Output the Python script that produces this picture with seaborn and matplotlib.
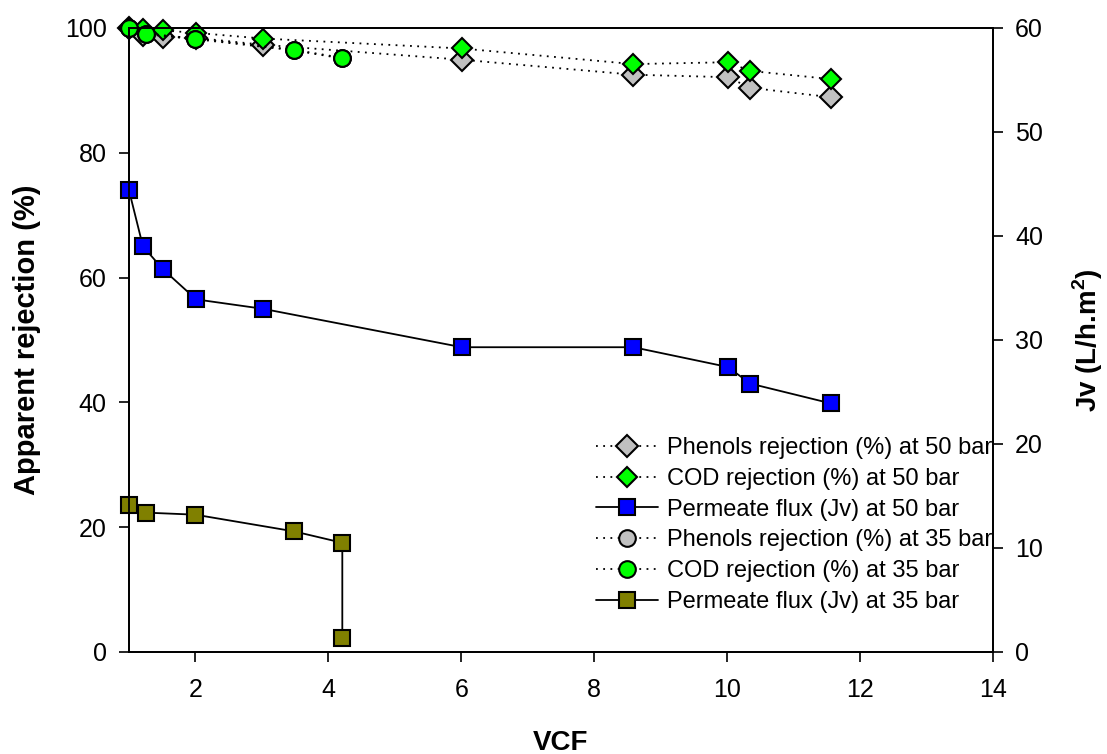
import matplotlib
matplotlib.use("Agg")
import matplotlib.pyplot as plt
import seaborn as sns

# ---- data ----
vcf50 = [1.0, 1.21, 1.51, 2.01, 3.01, 6.01, 8.59, 10.01, 10.35, 11.56]
phenols50 = [100.0, 98.9, 98.6, 98.4, 97.3, 94.9, 92.5, 92.1, 90.4, 88.9]
cod50 = [100.0, 99.8, 99.6, 99.2, 98.3, 96.7, 94.2, 94.5, 93.1, 91.8]
flux50 = [44.4, 39.0, 36.8, 33.9, 33.0, 29.3, 29.3, 27.4, 25.8, 23.9]

vcf35 = [1.0, 1.25, 2.0, 3.48, 4.21]
phenols35 = [100.0, 99.0, 98.2, 96.4, 95.1]
cod35 = [100.0, 99.1, 98.3, 96.5, 95.2]
vcf35_flux = [1.0, 1.25, 2.0, 3.48, 4.21, 4.21]
flux35 = [14.1, 13.4, 13.2, 11.6, 10.5, 1.3]

labels = ["Phenols rejection (%) at 50 bar", "COD rejection (%) at 50 bar",
          "Permeate flux (Jv) at 50 bar", "Phenols rejection (%) at 35 bar",
          "COD rejection (%) at 35 bar", "Permeate flux (Jv) at 35 bar"]
x_ticks = [2, 4, 6, 8, 10, 12, 14]
y_ticks = [0, 20, 40, 60, 80, 100]
y2_ticks = [0, 10, 20, 30, 40, 50, 60]

sns.set_style("ticks")
plt.rcParams['font.family'] = ['Liberation Sans', 'DejaVu Sans']
plt.rcParams['mathtext.fontset'] = 'custom'
plt.rcParams['mathtext.rm'] = 'Liberation Sans'
plt.rcParams['mathtext.bf'] = 'Liberation Sans:bold'
for k in ('text.color', 'axes.labelcolor', 'xtick.color', 'ytick.color', 'axes.edgecolor'):
    plt.rcParams[k] = 'black'

fig = plt.figure(figsize=(11.07, 7.54), dpi=100)
ax = fig.add_axes([0.1165, 0.1353, 0.897 - 0.1165, 0.963 - 0.1353])
ax2 = ax.twinx()

dot = (0, (1, 3))
common = dict(markeredgecolor="black", markeredgewidth=1.5, color="black",
              linewidth=1.3, clip_on=False, estimator=None, sort=False, legend=False)

sns.lineplot(x=vcf50, y=phenols50, ax=ax, marker="D", markersize=11,
             markerfacecolor="#C0C0C0", linestyle=dot, label=labels[0], **common)
sns.lineplot(x=vcf50, y=cod50, ax=ax, marker="D", markersize=10.5,
             markerfacecolor="#00FF00", linestyle=dot, label=labels[1], **common)
sns.lineplot(x=vcf35, y=phenols35, ax=ax, marker="o", markersize=12,
             markerfacecolor="#C0C0C0", linestyle=dot, label=labels[3], **common)
sns.lineplot(x=vcf35, y=cod35, ax=ax, marker="o", markersize=12,
             markerfacecolor="#00FF00", linestyle=dot, label=labels[4], **common)

sns.lineplot(x=vcf50, y=flux50, ax=ax2, marker="s", markersize=11,
             markerfacecolor="#0000FF", linestyle="-", label=labels[2], **common)
sns.lineplot(x=vcf35_flux, y=flux35, ax=ax2, marker="s", markersize=11,
             markerfacecolor="#808000", linestyle="-", label=labels[5], **common)

for a in (ax, ax2):
    if a.get_legend() is not None:
        a.get_legend().remove()

ax.set_xlim(1, 14)
ax.set_ylim(0, 100)
ax2.set_ylim(0, 60)
ax.set_xticks(x_ticks)
ax.set_yticks(y_ticks)
ax2.set_yticks(y2_ticks)

for a in (ax, ax2):
    for s in a.spines.values():
        s.set_linewidth(1.3)
        s.set_color("black")
        s.set_visible(True)
    a.grid(False)

ax.tick_params(axis="x", direction="out", length=7, width=1.2, labelsize=18, pad=12, top=False)
ax.tick_params(axis="y", direction="out", length=7, width=1.2, labelsize=18, pad=9)
ax2.tick_params(axis="y", direction="out", length=7, width=1.2, labelsize=18, pad=9)

ax.set_xlabel("VCF", fontsize=20, fontweight="bold", labelpad=20)
ax.set_ylabel("Apparent rejection (%)", fontsize=21, fontweight="bold", labelpad=17)
ax2.set_ylabel(r"Jv (L/h.m$^\mathbf{2}$)", fontsize=20, fontweight="bold", labelpad=20)

h1, l1 = ax.get_legend_handles_labels()
h2, l2 = ax2.get_legend_handles_labels()
hmap = dict(zip(l1 + l2, h1 + h2))
leg = ax2.legend([hmap[l] for l in labels], labels, loc="lower right",
                 bbox_to_anchor=(1.005, 0.055), frameon=False, fontsize=17,
                 handlelength=2.6, handletextpad=0.4, labelspacing=0.37,
                 borderpad=0.2, borderaxespad=0.0)

fig.savefig("out.png", dpi=100)
